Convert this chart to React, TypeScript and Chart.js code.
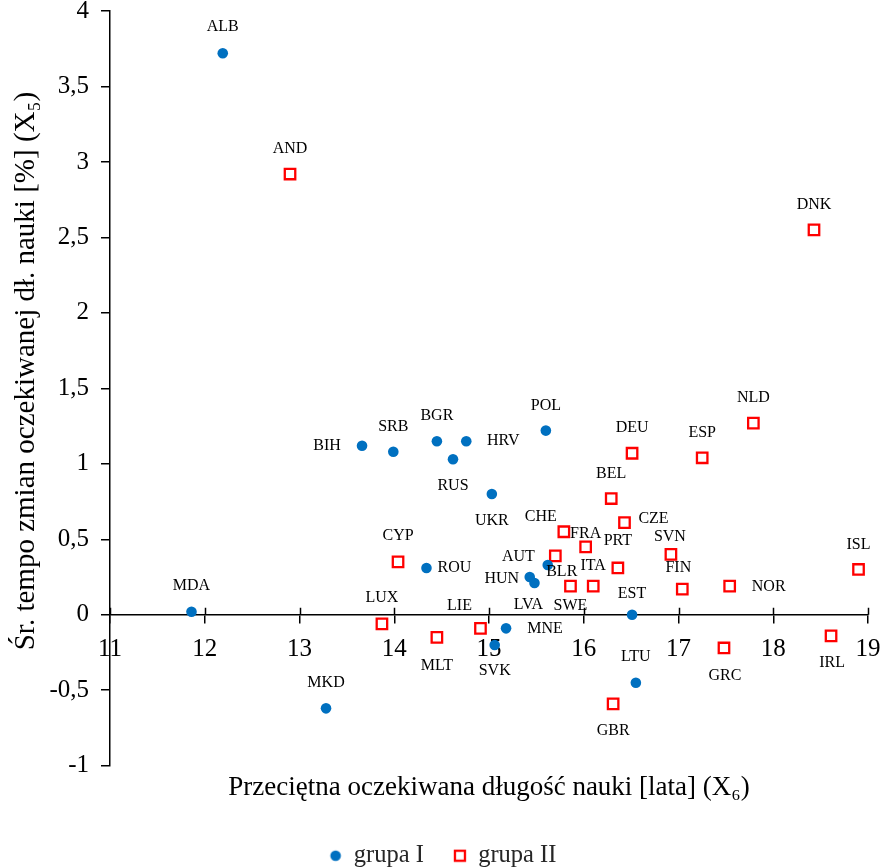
import React, { useEffect, useRef } from 'react';
import { Chart, registerables } from 'chart.js';

Chart.register(...registerables);

// ---- data ----
const groupICodes = ['ALB', 'MDA', 'MKD', 'BIH', 'SRB', 'BGR', 'HRV', 'RUS', 'UKR', 'POL', 'ROU', 'HUN', 'BLR', 'LVA', 'MNE', 'SVK', 'EST', 'LTU'];
const groupIX = [12.19, 11.86, 13.28, 13.66, 13.99, 14.45, 14.76, 14.62, 15.03, 15.6, 14.34, 15.43, 15.62, 15.48, 15.18, 15.06, 16.51, 16.55];
const groupIY = [3.72, 0.02, -0.62, 1.12, 1.08, 1.15, 1.15, 1.03, 0.8, 1.22, 0.31, 0.25, 0.33, 0.21, -0.09, -0.2, 0.0, -0.45];

const groupIICodes = ['AND', 'DNK', 'NLD', 'ESP', 'DEU', 'BEL', 'CZE', 'SVN', 'FIN', 'NOR', 'ISL', 'GRC', 'IRL', 'GBR', 'CHE', 'FRA', 'AUT', 'SWE', 'ITA', 'PRT', 'LIE', 'MLT', 'LUX', 'CYP'];
const groupIIX = [12.9, 18.43, 17.79, 17.25, 16.51, 16.29, 16.43, 16.92, 17.04, 17.54, 18.9, 17.48, 18.61, 16.31, 15.79, 16.02, 15.7, 15.86, 16.1, 16.36, 14.91, 14.45, 13.87, 14.04];
const groupIIY = [2.92, 2.55, 1.27, 1.04, 1.07, 0.77, 0.61, 0.4, 0.17, 0.19, 0.3, -0.22, -0.14, -0.59, 0.55, 0.45, 0.39, 0.19, 0.19, 0.31, -0.09, -0.15, -0.06, 0.35];

const seriesNames = ['grupa I', 'grupa II'];
const xTitle = 'Przeciętna oczekiwana długość nauki [lata] (X₆)';
const yTitle = 'Śr. tempo zmian oczekiwanej dł. nauki [%] (X₅)';
const xMin = 11, xMax = 19, xStep = 1;
const yMin = -1, yMax = 4, yStep = 0.5;

// ---- label placement (pixel offsets of each country code from its marker) ----
const groupILabelOffsets = [
  [0, -26], [0, -26], [0, -26], [-35, 0], [0, -25], [0, -25], [37, 0], [0, 27], [0, 27],
  [0, -25], [28, 0], [-28, 2], [14, 7], [-6, 22], [39, 0], [0, 26], [0, -21], [0, -26],
];
const groupIILabelOffsets = [
  [0, -25], [0, -25], [0, -25], [0, -25], [0, -25], [0, -25], [29, -4], [-1, -18], [-4, -21],
  [39, 1], [0, -25], [1, 28], [1, 27], [0, 27], [-23, -15], [0, -13], [-37, 1], [0, 20],
  [0, -20], [0, -27], [-21, -23], [0, 28], [0, -26], [0, -26],
];

const BLUE = '#0070C0';
const RED = '#FF0000';
const FONT = "'Liberation Serif', 'DejaVu Serif', serif";

export default function App() {
  const ref = useRef<HTMLCanvasElement>(null);

  useEffect(() => {
    const canvas = ref.current;
    if (!canvas) return;

    const mkIcon = (draw: (g: CanvasRenderingContext2D) => void) => {
      const c = document.createElement('canvas');
      c.width = 14;
      c.height = 14;
      const g = c.getContext('2d')!;
      draw(g);
      return c;
    };
    const blueIcon = mkIcon((g) => {
      g.fillStyle = BLUE;
      g.beginPath();
      g.arc(7, 7, 5.3, 0, Math.PI * 2);
      g.fill();
    });
    const redIcon = mkIcon((g) => {
      g.fillStyle = '#fff';
      g.fillRect(2, 2, 10, 10);
      g.strokeStyle = RED;
      g.lineWidth = 2.3;
      g.strokeRect(2, 2, 10, 10);
    });

    const labelSets = [
      { codes: groupICodes, offsets: groupILabelOffsets },
      { codes: groupIICodes, offsets: groupIILabelOffsets },
    ];

    const extrasPlugin = {
      id: 'extras',
      beforeDatasetsDraw(chart: any) {
        const { ctx } = chart;
        const xs = chart.scales.x;
        const ys = chart.scales.y;
        const y0 = ys.getPixelForValue(0);
        ctx.save();
        ctx.strokeStyle = '#000';
        ctx.lineWidth = 1.5;
        xs.ticks.forEach((t: any) => {
          const px = Math.round(xs.getPixelForValue(t.value)) + 0.5;
          ctx.beginPath();
          ctx.moveTo(px, y0 - 7);
          ctx.lineTo(px, y0);
          ctx.stroke();
        });
        ctx.restore();
      },
      afterDatasetsDraw(chart: any) {
        const { ctx } = chart;
        ctx.save();
        ctx.font = `16px ${FONT}`;
        ctx.fillStyle = '#000';
        ctx.textAlign = 'center';
        ctx.textBaseline = 'middle';
        labelSets.forEach((set, di) => {
          const meta = chart.getDatasetMeta(di);
          meta.data.forEach((el: any, i: number) => {
            const [dx, dy] = set.offsets[i];
            ctx.fillText(set.codes[i], el.x + dx, el.y + dy);
          });
        });
        // vertical axis title
        ctx.font = `29px ${FONT}`;
        ctx.translate(26, 371);
        ctx.rotate(-Math.PI / 2);
        ctx.fillText(yTitle, 0, 0);
        ctx.restore();
      },
    };

    const zeroPad = (scale: any) => {
      scale.paddingLeft = 0;
      scale.paddingRight = 0;
      scale.paddingTop = 0;
      scale.paddingBottom = 0;
    };

    const chart = new Chart(canvas, {
      type: 'scatter',
      data: {
        datasets: [
          {
            label: seriesNames[0],
            data: groupIX.map((x, i) => ({ x, y: groupIY[i] })),
            pointStyle: 'circle',
            pointRadius: 5.3,
            pointBorderWidth: 0,
            backgroundColor: BLUE,
            borderColor: BLUE,
          },
          {
            label: seriesNames[1],
            data: groupIIX.map((x, i) => ({ x, y: groupIIY[i] })),
            pointStyle: 'rect',
            pointRadius: 7.4,
            pointBorderWidth: 2.3,
            backgroundColor: '#ffffff',
            borderColor: RED,
          },
        ],
      },
      options: {
        responsive: false,
        animation: false,
        devicePixelRatio: 1,
        events: [],
        layout: { padding: { left: 18, right: 16, top: 11, bottom: -9.95 } },
        scales: {
          x: {
            type: 'linear',
            min: xMin,
            max: xMax,
            position: { y: 0 } as any,
            afterFit: zeroPad,
            grid: { display: true, drawOnChartArea: false, drawTicks: true, tickLength: 8, color: '#000', lineWidth: 1.5 },
            border: { display: true, color: '#000', width: 1.5 },
            ticks: {
              stepSize: xStep,
              autoSkip: false,
              maxRotation: 0,
              padding: 12,
              color: '#000',
              font: { family: FONT, size: 25 },
              callback: (v: any) => String(v),
            },
          },
          y: {
            type: 'linear',
            min: yMin,
            max: yMax,
            position: 'left',
            afterFit: (scale: any) => {
              zeroPad(scale);
              scale.width = 92;
            },
            grid: { display: true, drawOnChartArea: false, drawTicks: true, tickLength: 9, color: '#000', lineWidth: 1.5 },
            border: { display: true, color: '#000', width: 1.5 },
            ticks: {
              stepSize: yStep,
              autoSkip: false,
              padding: 12,
              color: '#000',
              font: { family: FONT, size: 25 },
              callback: (v: any) => String(v).replace('.', ','),
            },
          },
        },
        plugins: {
          tooltip: { enabled: false },
          title: {
            display: true,
            position: 'bottom',
            text: xTitle,
            color: '#000',
            fullSize: false,
            weight: 500,
            font: { family: FONT, size: 27, weight: 'normal', lineHeight: 1.2 },
            padding: { top: 6, bottom: 9.35 },
          } as any,
          legend: {
            display: true,
            position: 'bottom',
            weight: 1000,
            labels: {
              usePointStyle: true,
              boxWidth: 12,
              boxHeight: 12,
              padding: 30,
              color: '#262626',
              font: { family: FONT, size: 24.5 },
              generateLabels: (ch: any) => {
                const items = Chart.defaults.plugins.legend.labels.generateLabels(ch);
                return items.map((it: any, i: number) => ({
                  ...it,
                  pointStyle: i === 0 ? blueIcon : redIcon,
                  lineWidth: 0,
                }));
              },
            },
          } as any,
        },
      },
      plugins: [extrasPlugin],
    });

    return () => chart.destroy();
  }, []);

  return (
    <div style={{ position: 'absolute', left: 0, top: 0, width: 884, height: 868, background: '#fff' }}>
      <canvas ref={ref} width={884} height={868} style={{ display: 'block', width: 884, height: 868 }} />
    </div>
  );
}
